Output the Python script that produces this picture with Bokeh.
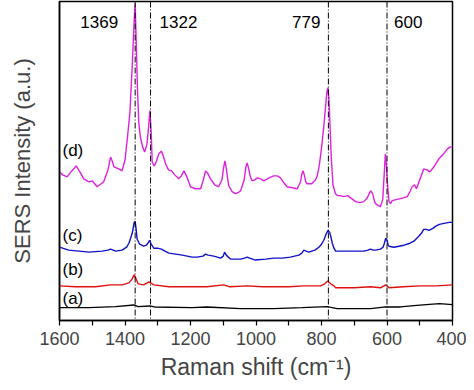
from bokeh.plotting import figure
from bokeh.models import Span, FixedTicker, Label, Range1d
from bokeh.embed import file_html
from bokeh.resources import INLINE

# ---- data ----
w_d = [1600,1590,1577,1565,1549,1536,1526,1510,1500,1485,1465,1452,1444,1438,1434,1419,1409,1400,1393,1385,
       1378,1372,1369,1366,1362,1358,1353,1346,1340,1333,1328,1324,1320,1317,1311,1305,1297,1289,1282,1276,
       1267,1258,1248,1236,1228,1220,1211,1200,1185,1169,1160,1154,1148,1139,1126,1114,1104,1099,1095,1091,
       1086,1083,1073,1063,1055,1047,1036,1031,1027,1023,1018,1012,1004,996,986,976,960,946,935,925,
       915,905,890,874,864,860,856,852,848,844,830,824,818,813,808,803,798,793,787,783,
       780,777,775,772,770,767,765,760,757,752,742,732,720,708,696,684,671,660,650,644,
       638,635,627,620,613,609,605,602,598,594,589,584,572,559,548,538,530,523,516,510,
       500,488,478,469,455,442,428,416,408,400]
i_d = [150,147,145,150,156,149,143,140,141,135,140,152,165,160,155,153,151,162,183,210,
       256,303,320,285,235,200,185,175,170,178,195,212,190,160,156,160,168,171,165,158,
       152,151,147,143,146,151,145,135,133,133,143,151,149,143,137,135,142,154,161,154,
       142,136,130,128,129,131,142,155,159,154,146,141,142,144,143,141,144,146,146,144,
       139,135,134,133,140,148,151,146,140,138,138,140,142,146,154,166,180,196,218,232,
       235,222,205,180,163,148,137,131,128,126,126,125,126,123,120,119,120,124,131,128,
       120,118,116,115,122,145,168,158,136,120,118,121,122,123,124,125,130,135,137,133,
       142,153,152,150,156,163,168,173,175,175]

w_c = [1600,1572,1541,1510,1470,1452,1444,1436,1429,1409,1395,1388,1378,1372,1369,1366,1363,1355,1343,1335,
       1330,1325,1320,1312,1300,1289,1278,1266,1245,1225,1195,1180,1162,1154,1146,1129,1108,1100,1096,1091,
       1078,1047,1035,1027,1019,1002,970,946,920,895,869,860,854,847,839,820,808,800,793,785,
       780,775,771,767,762,757,730,701,685,671,658,650,642,635,620,612,608,604,600,597,
       594,579,548,530,518,503,495,488,480,472,460,452,440,426,410,400]
i_c = [74,71,70,69,70,71,72,71,70,71,74,78,88,99,100,92,82,77,75,76,
       78,81,77,73,73,72,70,68,67,66,64,64,65,67,66,65,63,65,69,66,
       62,62,63,64,63,61,62,63,63,64,66,68,71,70,69,71,74,77,81,88,
       91,89,84,78,73,70,70,70,70,70,71,72,71,71,72,74,78,83,81,77,
       75,74,76,78,80,85,88,92,92,91,93,95,97,98,99,99]

w_b = [1600,1551,1490,1444,1409,1388,1378,1372,1366,1360,1343,1327,1312,1266,1195,1150,1098,1080,1027,980,
       900,854,803,790,781,772,762,757,701,650,620,604,594,550,498,450,400]
i_b = [35,34,34,36,36,38,42,46,42,37,36,39,36,34,34,34,36,34,35,34,
       34,35,35,37,40,37,35,33,33,34,33,36,33,34,35,35,36]

w_a = [1600,1510,1429,1373,1360,1325,1310,1195,1150,1047,946,860,783,752,650,604,559,518,480,440,400]
i_a = [13,13,14,15.7,14,14.7,13.7,13,13.7,12,12,13,14,12,12,13.7,13.7,15,16,17,16]

series_labels = ["(a)", "(b)", "(c)", "(d)"]
series_label_y = [22, 51, 85.5, 172]
peaks = [1369, 1322, 779, 600]
x_ticks = [1600, 1400, 1200, 1000, 800, 600, 400]
x_minor = [1500, 1300, 1100, 900, 700, 500]

# ---- styles ----
FONT = "Liberation Sans"
colors = ["#000000", "#e01010", "#1010c8", "#e020e0"]
peak_align = ["right", "left", "right", "left"]
peak_offset = [-17, 9, -8, 7]

Y_TOP = 322
p = figure(width=466, height=382, output_backend="svg", toolbar_location=None,
           x_range=Range1d(1600, 400), y_range=Range1d(0, Y_TOP),
           min_border_left=59, min_border_right=14, min_border_top=1, min_border_bottom=10)
p.grid.visible = False
p.outline_line_color = "black"
p.outline_line_width = 1.5
p.background_fill_color = "white"
p.border_fill_color = "white"

for w, i, c in zip([w_a, w_b, w_c, w_d], [i_a, i_b, i_c, i_d], colors):
    p.line(w, i, line_color=c, line_width=1.4)

for pk in peaks:
    p.add_layout(Span(location=pk, dimension="height", line_color="black",
                      line_width=1, line_dash="6 2 1 2"))

for pk, al, off in zip(peaks, peak_align, peak_offset):
    p.add_layout(Label(x=pk, y=Y_TOP - 21, text=str(pk), text_align=al, x_offset=off,
                       text_baseline="middle", text_font=FONT, text_font_size="17px",
                       text_color="black"))

for lab, ly in zip(series_labels, series_label_y):
    p.add_layout(Label(x=1600, y=ly, text=lab, x_offset=3, text_baseline="middle",
                       text_font=FONT, text_font_size="17px", text_color="black"))

xa = p.xaxis[0]
xa.ticker = FixedTicker(ticks=x_ticks, minor_ticks=x_minor)
xa.axis_label = "Raman shift (cm\u207b\u00b9)"
xa.axis_label_text_font = FONT
xa.axis_label_text_font_size = "23px"
xa.axis_label_text_font_style = "normal"
xa.axis_label_standoff = 6
xa.major_label_text_font = FONT
xa.major_label_text_font_size = "18px"
xa.major_label_standoff = 6
xa.major_tick_in = 0
xa.major_tick_out = 5
xa.minor_tick_in = 0
xa.minor_tick_out = 5
xa.axis_line_width = 1.5
xa.major_tick_line_width = 1.2
xa.minor_tick_line_width = 1.2

ya = p.yaxis[0]
ya.ticker = FixedTicker(ticks=[])
ya.axis_label = "SERS Intensity (a.u.)"
ya.axis_label_text_font = FONT
ya.axis_label_text_font_size = "22px"
ya.axis_label_text_font_style = "normal"
ya.axis_label_standoff = 25
ya.major_tick_line_color = None
ya.minor_tick_line_color = None
ya.axis_line_width = 1.5

open("out.html", "w").write(file_html(p, INLINE))
